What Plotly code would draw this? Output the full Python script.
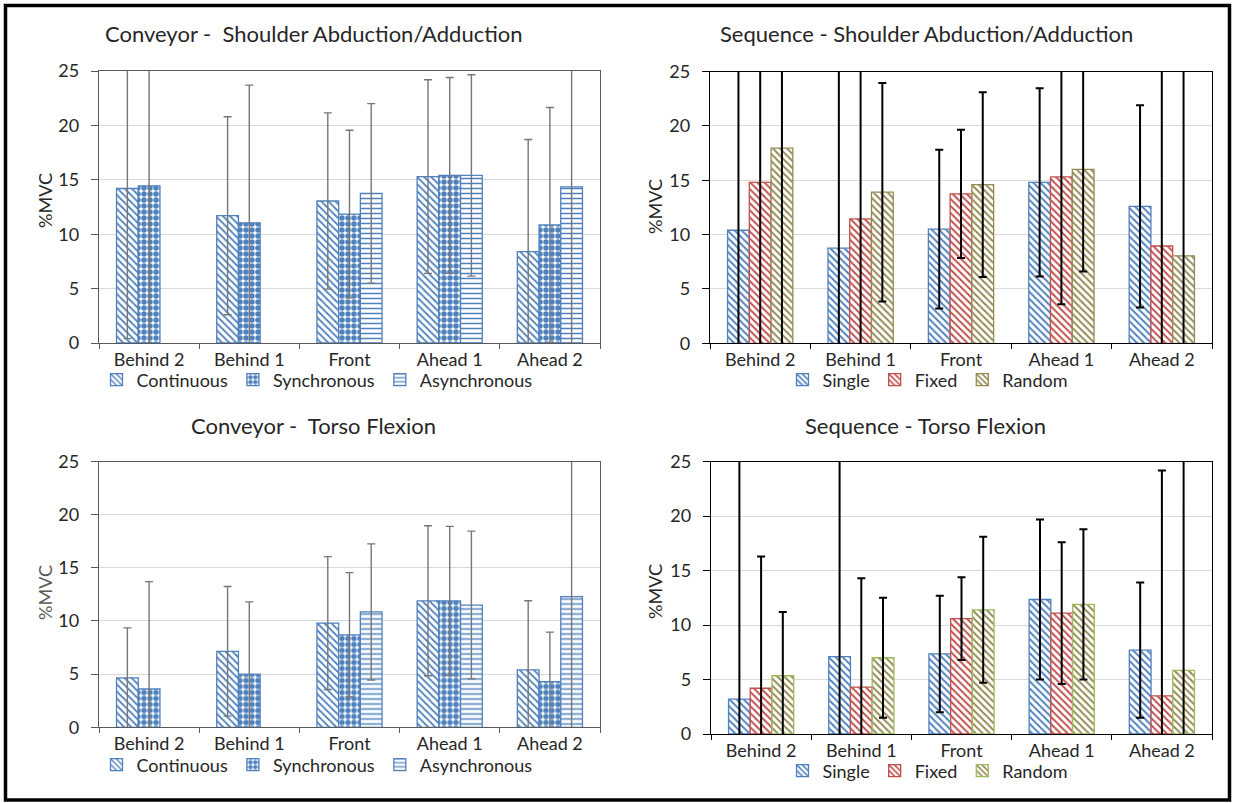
import plotly.graph_objects as go

W, H = 1233, 803

categories = ["Behind 2", "Behind 1", "Front", "Ahead 1", "Ahead 2"]

# Conveyor - Shoulder Abduction/Adduction
cs_names = ["Continuous", "Synchronous", "Asynchronous"]
cs_continuous = [14.2, 11.7, 13.05, 15.3, 8.4]
cs_continuous_err = [13.8, 9.1, 8.1, 8.9, 10.3]
cs_synchronous = [14.45, 11.05, 11.85, 15.4, 10.85]
cs_synchronous_err = [15.5, 12.65, 7.7, 9.0, 10.8]
cs_asynchronous = [None, None, 13.75, 15.4, 14.35]
cs_asynchronous_err = [None, None, 8.25, 9.25, 15.0]

# Sequence - Shoulder Abduction/Adduction
ss_names = ["Single", "Fixed", "Random"]
ss_single = [10.4, 8.75, 10.5, 14.8, 12.6]
ss_single_err = [16.0, 17.0, 7.3, 8.65, 9.3]
ss_fixed = [14.8, 11.45, 13.75, 15.3, 8.95]
ss_fixed_err = [15.5, 14.0, 5.9, 11.7, 17.0]
ss_random = [17.95, 13.9, 14.6, 16.0, 8.05]
ss_random_err = [18.5, 10.05, 8.5, 9.4, 18.0]

# Conveyor - Torso Flexion
ct_continuous = [4.65, 7.15, 9.8, 11.9, 5.4]
ct_continuous_err = [4.7, 6.1, 6.25, 7.05, 6.5]
ct_synchronous = [3.6, 5.0, 8.7, 11.9, 4.3]
ct_synchronous_err = [10.1, 6.8, 5.85, 7.0, 4.65]
ct_asynchronous = [None, None, 10.85, 11.5, 12.3]
ct_asynchronous_err = [None, None, 6.4, 6.95, 13.0]

# Sequence - Torso Flexion
st_single = [3.2, 7.1, 7.35, 12.35, 7.7]
st_single_err = [23.0, 19.0, 5.35, 7.35, 6.2]
st_fixed = [4.2, 4.3, 10.6, 11.1, 3.5]
st_fixed_err = [12.1, 10.0, 3.8, 6.5, 20.7]
st_random = [5.35, 7.0, 11.4, 11.9, 5.85]
st_random_err = [5.85, 5.5, 6.7, 6.9, 20.0]

titles = ["Conveyor -  Shoulder Abduction/Adduction",
          "Sequence - Shoulder Abduction/Adduction",
          "Conveyor -  Torso Flexion",
          "Sequence - Torso Flexion"]
y_label = "%MVC"
y_ticks = [0, 5, 10, 15, 20, 25]

FONT = "Lato, 'Open Sans', sans-serif"
TXT = "#262626"
BLUE = "#4f81bd"
RED = "#c0504d"
KHAKI = "#948a54"
GREEN = "#9bbb59"

# plot areas in pixels: (x0, x1, ytop, ybottom)
areas = {
    1: (99, 600, 71, 343),
    2: (710, 1212, 71.5, 343.3),
    3: (99, 600, 461.5, 727.3),
    4: (711, 1212, 461.7, 734),
}

fig = go.Figure()


def add_bar(sub, name, y, err, line_color, pat_shape, pat_color, pat_size, pat_sol,
            err_color, err_thick, legend):
    fig.add_trace(go.Bar(
        x=categories, y=y, name=name,
        xaxis="x" if sub == 1 else f"x{sub}",
        yaxis="y" if sub == 1 else f"y{sub}",
        legend=legend,
        marker=dict(color="white",
                    line=dict(color=line_color, width=1.3),
                    pattern=dict(shape=pat_shape, fgcolor=pat_color, bgcolor="white",
                                 size=pat_size, solidity=pat_sol, fillmode="replace")),
        error_y=dict(type="data", array=err, visible=True, color=err_color,
                     thickness=err_thick, width=4),
        hoverinfo="x+y+name",
    ))


GRAY_ERR = "#767676"
# Subplot 1
add_bar(1, cs_names[0], cs_continuous, cs_continuous_err, BLUE, "\\", BLUE, 5, 0.35, GRAY_ERR, 1.4, "legend")
add_bar(1, cs_names[1], cs_synchronous, cs_synchronous_err, BLUE, ".", BLUE, 6, 0.65, GRAY_ERR, 1.4, "legend")
add_bar(1, cs_names[2], cs_asynchronous, cs_asynchronous_err, BLUE, "-", BLUE, 5, 0.3, GRAY_ERR, 1.4, "legend")
# Subplot 2
add_bar(2, ss_names[0], ss_single, ss_single_err, BLUE, "\\", BLUE, 5, 0.4, "black", 2, "legend2")
add_bar(2, ss_names[1], ss_fixed, ss_fixed_err, RED, "\\", RED, 5, 0.4, "black", 2, "legend2")
add_bar(2, ss_names[2], ss_random, ss_random_err, KHAKI, "\\", KHAKI, 5, 0.4, "black", 2, "legend2")
# Subplot 3
add_bar(3, cs_names[0], ct_continuous, ct_continuous_err, BLUE, "\\", BLUE, 5, 0.35, GRAY_ERR, 1.4, "legend3")
add_bar(3, cs_names[1], ct_synchronous, ct_synchronous_err, BLUE, ".", BLUE, 6, 0.65, GRAY_ERR, 1.4, "legend3")
add_bar(3, cs_names[2], ct_asynchronous, ct_asynchronous_err, BLUE, "-", BLUE, 5, 0.3, GRAY_ERR, 1.4, "legend3")
# Subplot 4
add_bar(4, ss_names[0], st_single, st_single_err, BLUE, "\\", BLUE, 5, 0.4, "black", 2, "legend4")
add_bar(4, ss_names[1], st_fixed, st_fixed_err, RED, "\\", RED, 5, 0.4, "black", 2, "legend4")
add_bar(4, ss_names[2], st_random, st_random_err, GREEN, "\\", KHAKI, 5, 0.4, "black", 2, "legend4")

layout = dict(
    width=W, height=H,
    margin=dict(l=0, r=0, t=0, b=0, pad=0, autoexpand=False),
    paper_bgcolor="white", plot_bgcolor="white",
    barmode="group", bargap=0.35, bargroupgap=0,
    font=dict(family=FONT, size=18, color=TXT),
    hovermode="closest",
)

frame_colors = {1: "#595959", 2: "black", 3: "#595959", 4: "black"}
for sub, (x0, x1, yt, yb) in areas.items():
    sx = "" if sub == 1 else str(sub)
    lc = frame_colors[sub]
    layout["xaxis" + sx] = dict(
        domain=[x0 / W, x1 / W], anchor="y" + sx, type="category",
        showline=True, linecolor=lc, linewidth=1.3, mirror=True,
        ticks="outside", tickson="boundaries", ticklen=5, tickcolor=lc,
        showgrid=False, tickfont=dict(size=18, color=TXT), fixedrange=True,
        automargin=False,
    )
    layout["yaxis" + sx] = dict(
        domain=[1 - yb / H, 1 - yt / H], anchor="x" + sx,
        range=[0, 25], tickvals=y_ticks, ticktext=[str(v) for v in y_ticks],
        showline=True, linecolor=lc, linewidth=1.3, mirror=True,
        ticks="outside", ticklen=7, tickcolor=lc,
        showgrid=True, gridcolor="#d9d9d9", gridwidth=1, zeroline=False,
        tickfont=dict(size=18, color=TXT), ticklabelstandoff=8, fixedrange=True,
        automargin=False,
    )

legend_pos = {"legend": (317, 380), "legend2": (928, 380),
              "legend3": (317, 765), "legend4": (928, 771)}
for key, (lx, ly) in legend_pos.items():
    layout[key] = dict(orientation="h", x=lx / W, y=1 - ly / H, xanchor="center",
                       yanchor="middle", bgcolor="rgba(0,0,0,0)",
                       font=dict(size=18, color=TXT), itemwidth=30,
                       tracegroupgap=0)

fig.update_layout(**layout)

title_pos = [(313, 34), (926, 34), (313, 425), (925, 425)]
for t, (tx, ty) in zip(titles, title_pos):
    fig.add_annotation(text=t, x=tx / W, y=1 - ty / H, xref="paper", yref="paper",
                       showarrow=False, xanchor="center", yanchor="middle",
                       font=dict(size=22, color=TXT))

ylab_pos = [(45, 200, TXT), (655, 207, TXT), (45, 592, "#595959"), (655, 592, TXT)]
for lx, ly, col in ylab_pos:
    fig.add_annotation(text=y_label, x=lx / W, y=1 - ly / H, xref="paper", yref="paper",
                       showarrow=False, xanchor="center", yanchor="middle", textangle=-90,
                       font=dict(size=18, color=col))

# outer frame
fig.add_shape(type="rect", xref="paper", yref="paper",
              x0=5.5 / W, x1=1229.5 / W, y0=1 - 800 / H, y1=1 - 5.5 / H,
              line=dict(color="black", width=3.5), fillcolor="rgba(0,0,0,0)")

fig.write_html("out.html")
